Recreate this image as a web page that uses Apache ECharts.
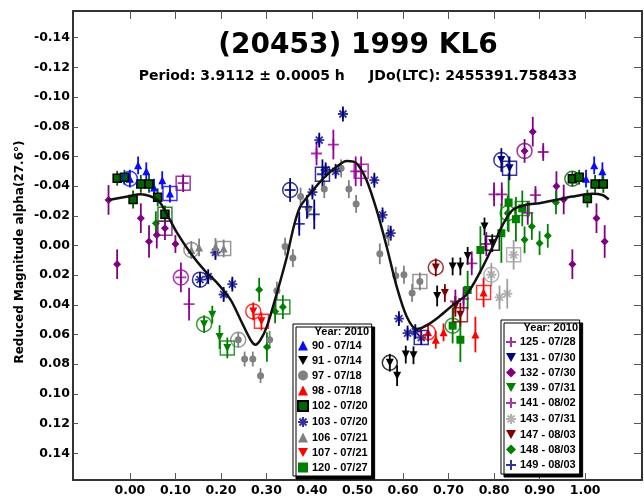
<!DOCTYPE html>
<html><head><meta charset="utf-8">
<script src="https://cdn.jsdelivr.net/npm/echarts@6/dist/echarts.min.js"></script>
<style>html,body{margin:0;padding:0;background:#fff}#c{width:644px;height:499px}</style>
</head><body><div id="c"></div>
<script>
// ---- tick labels ----
const xTicks = [0.00, 0.10, 0.20, 0.30, 0.40, 0.50, 0.60, 0.70, 0.80, 0.90, 1.00];
const yTicks = [-0.14, -0.12, -0.10, -0.08, -0.06, -0.04, -0.02, 0.00, 0.02, 0.04, 0.06, 0.08, 0.10, 0.12, 0.14];

// ---- sessions: [phase, reduced mag, error, marker('c' circle / 's' square)] ----
const s90  = [[0.000,-0.045,0.006,'c'],[0.018,-0.054,0.006],[0.036,-0.050,0.006],[0.053,-0.039,0.006],[0.071,-0.044,0.006],[0.088,-0.035,0.006,'s'],[1.002,-0.045,0.006],[1.020,-0.054,0.006],[1.038,-0.050,0.006]];
const s91  = [[0.571,0.079,0.006,'c'],[0.587,0.0877,0.007],[0.606,0.0735,0.006],[0.623,0.074,0.006],[0.675,0.034,0.007],[0.709,0.0141,0.006],[0.726,0.0141,0.006],[0.742,0.007,0.006],[0.779,-0.0128,0.006],[0.796,-0.0016,0.006,'s']];
const s97  = [[0.238,0.0635,0.005,'c'],[0.252,0.0765,0.005],[0.270,0.0765,0.005],[0.287,0.0877,0.005],[0.307,0.0635,0.006],[0.323,0.0305,0.006],[0.341,0.0007,0.006],[0.358,0.0085,0.006],[0.375,-0.033,0.006],[0.392,-0.025,0.006],[0.427,-0.038,0.006],[0.464,-0.052,0.006],[0.481,-0.038,0.006],[0.497,-0.028,0.006],[0.549,0.0056,0.007],[0.568,-0.0067,0.007],[0.584,0.0204,0.006],[0.602,0.0197,0.006],[0.620,0.032,0.006],[0.637,0.0242,0.006,'s']];
const s98  = [[0.655,0.0585,0.006,'c'],[0.672,0.0635,0.006],[0.689,0.0585,0.006],[0.759,0.060,0.012],[0.777,0.0316,0.010,'s']];
const s102 = [[-0.028,-0.0453,0.005],[-0.012,-0.046,0.005],[0.007,-0.031,0.006],[0.024,-0.0415,0.006],[0.042,-0.0415,0.006],[0.061,-0.0325,0.006],[0.077,-0.021,0.006,'s'],[0.972,-0.045,0.005,'c'],[0.987,-0.046,0.005],[1.005,-0.0316,0.006],[1.022,-0.0415,0.006],[1.040,-0.0415,0.006]];
const s103 = [[0.154,0.023,0.005,'c'],[0.172,0.021,0.005],[0.188,0.0047,0.005],[0.206,0.033,0.005],[0.225,0.026,0.005],[0.401,-0.036,0.005],[0.416,-0.071,0.005],[0.430,-0.051,0.005],[0.452,-0.050,0.005],[0.468,-0.0886,0.005],[0.537,-0.044,0.005],[0.555,-0.0206,0.005],[0.573,-0.0083,0.005],[0.591,0.0493,0.005],[0.610,0.059,0.005],[0.627,0.058,0.005],[0.640,0.062,0.005,'s']];
const s106 = [[0.135,0.003,0.006,'c'],[0.152,0.0013,0.006],[0.188,0.001,0.006],[0.206,0.002,0.006,'s']];
const s107 = [[0.271,0.0444,0.006,'c'],[0.289,0.0511,0.006,'s']];
const s120 = [[0.709,0.054,0.012,'c'],[0.726,0.0635,0.015],[0.742,0.030,0.013],[0.770,0.003,0.016],[0.816,-0.0083,0.020],[0.832,-0.029,0.020],[0.848,-0.0177,0.015],[0.862,-0.025,0.012,'s']];
const s125 = [[0.715,0.0377,0.008],[0.733,0.036,0.008],[0.751,0.012,0.008],[0.783,-0.001,0.008],[0.800,-0.0345,0.008],[0.817,-0.0345,0.008],[0.874,-0.022,0.008],[0.891,-0.034,0.006],[0.908,-0.063,0.006],[0.117,-0.042,0.006,'s']];
const s131 = [[0.816,-0.0576,0.008,'c'],[0.834,-0.052,0.008,'s']];
const s132 = [[0.867,-0.0637,0.008,'c'],[0.885,-0.0767,0.010],[0.937,-0.040,0.010],[0.953,-0.031,0.010],[0.972,0.0126,0.010],[1.025,-0.0184,0.010],[1.043,-0.0027,0.011],[-0.047,-0.0307,0.010],[-0.028,0.0126,0.010],[0.024,-0.0184,0.010],[0.042,-0.0027,0.011],[0.059,-0.007,0.009],[0.077,-0.0117,0.008,'s'],[0.100,-0.001,0.006]];
const s139 = [[0.163,0.053,0.006,'c'],[0.181,0.0466,0.006],[0.197,0.0617,0.008],[0.214,0.069,0.007,'s']];
const s141 = [[0.112,0.0215,0.010,'c'],[0.130,0.0395,0.011],[0.410,-0.062,0.008],[0.447,-0.068,0.010],[0.496,-0.050,0.010],[0.508,-0.050,0.010,'s']];
const s143 = [[0.794,0.0197,0.008,'c'],[0.812,0.035,0.008],[0.829,0.0325,0.010],[0.843,0.0063,0.010,'s']];
const s147 = [[0.672,0.0148,0.006,'c'],[0.692,0.032,0.006],[0.715,0.041,0.007],[0.726,0.0466,0.008,'s']];
const s148 = [[0.284,0.0298,0.008],[0.301,0.0684,0.010],[0.319,0.0444,0.008],[0.336,0.0415,0.008,'s'],[0.057,-0.015,0.008],[0.830,-0.0218,0.012,'c'],[0.867,-0.0038,0.009],[0.883,-0.0128,0.009],[0.900,-0.0016,0.008],[0.918,-0.0065,0.008],[0.936,-0.029,0.008]];
const s149 = [[0.352,-0.0374,0.008,'c'],[0.372,-0.0146,0.008],[0.389,-0.026,0.008],[0.405,-0.021,0.010],[0.423,-0.048,0.010,'s']];

// ---- Fourier fit curve ----
const fitPhase = [-0.047,-0.005,0.024,0.061,0.082,0.104,0.133,0.163,0.192,0.221,0.243,0.265,0.276,0.287,0.301,0.323,0.345,0.360,0.374,0.396,0.425,0.454,0.476,0.491,0.502,0.520,0.542,0.564,0.586,0.608,0.630,0.651,0.680,0.710,0.739,0.768,0.797,0.819,0.841,0.870,0.900,0.936,0.972,1.016,1.038,1.052];
const fitMag   = [-0.0307,-0.033,-0.0345,-0.0307,-0.0206,-0.0083,0.005,0.0164,0.0253,0.0365,0.050,0.0635,0.0668,0.0635,0.0545,0.032,0.0074,-0.0128,-0.026,-0.035,-0.0453,-0.053,-0.057,-0.0565,-0.054,-0.044,-0.024,0.0007,0.0276,0.0478,0.0563,0.054,0.0478,0.040,0.0332,0.0186,0.0007,-0.0139,-0.024,-0.0274,-0.0285,-0.0307,-0.033,-0.0348,-0.034,-0.031];

// ---- styles ----
const STAR = 'path://M5,0V10M0,5H10M1.5,1.5L8.5,8.5M8.5,1.5L1.5,8.5';
const PLUS = 'path://M5,0V10M0,5H10';
const DOWN = 'path://M0,0L10,0L5,9Z';
const FONT = '"DejaVu Sans", sans-serif';
const LFONT = '"Liberation Sans", Arial, sans-serif';
const group1 = [
  {name:'90 - 07/14',  data:s90,  color:'#0a0aff', symbol:'triangle', size:8},
  {name:'91 - 07/14',  data:s91,  color:'#000000', symbol:DOWN, size:8},
  {name:'97 - 07/18',  data:s97,  color:'#808080', symbol:'circle', size:7},
  {name:'98 - 07/18',  data:s98,  color:'#ff0000', symbol:'triangle', size:8},
  {name:'102 - 07/20', data:s102, color:'#006400', symbol:'rect', size:8, border:'#000000'},
  {name:'103 - 07/20', data:s103, color:'#000080', symbol:STAR, size:10, line:true},
  {name:'106 - 07/21', data:s106, color:'#808080', symbol:'triangle', size:8},
  {name:'107 - 07/21', data:s107, color:'#ff0000', symbol:DOWN, size:8},
  {name:'120 - 07/27', data:s120, color:'#008000', symbol:'rect', size:8}
];
const group2 = [
  {name:'125 - 07/28', data:s125, color:'#8a008a', symbol:PLUS, size:11, line:true},
  {name:'131 - 07/30', data:s131, color:'#000080', symbol:DOWN, size:8},
  {name:'132 - 07/30', data:s132, color:'#800080', symbol:'diamond', size:8},
  {name:'139 - 07/31', data:s139, color:'#008000', symbol:DOWN, size:8},
  {name:'141 - 08/02', data:s141, color:'#990099', symbol:PLUS, size:11, line:true},
  {name:'143 - 07/31', data:s143, color:'#a0a0a0', symbol:STAR, size:10, line:true},
  {name:'147 - 08/03', data:s147, color:'#800000', symbol:DOWN, size:8},
  {name:'148 - 08/03', data:s148, color:'#008000', symbol:'diamond', size:8},
  {name:'149 - 08/03', data:s149, color:'#000080', symbol:PLUS, size:11, line:true}
];
const all = group1.concat(group2);

function errItem(params, api){
  const x = api.value(0), y = api.value(1), e = api.value(2);
  const a = api.coord([x, y - e]), b = api.coord([x, y + e]);
  return {type:'line', shape:{x1:a[0], y1:a[1], x2:b[0], y2:b[1]}, style:{stroke:api.visual('color'), lineWidth:1.8}};
}

const series = [];
all.forEach((s, i) => {
  series.push({type:'custom', name:'err' + i, renderItem:errItem, data:s.data.map(p => [p[0], p[1], p[2]]),
    itemStyle:{color:s.color}, z:2, silent:true, animation:false});
});
all.forEach((s) => {
  series.push({type:'scatter', name:s.name, data:s.data.map(p => [p[0], p[1]]),
    symbol:s.symbol, symbolSize:s.size,
    itemStyle: s.line ? {color:s.color, borderColor:s.color, borderWidth:1.8}
              : {color:s.color, borderColor:s.border || s.color, borderWidth:s.border ? 1.5 : 0, opacity:1},
    z:3, silent:true});
});
const ringData = [], boxData = [];
all.forEach((s) => {
  s.data.forEach(p => {
    if (p[3] === 'c') ringData.push({value:[p[0], p[1]], itemStyle:{borderColor:s.color}});
    if (p[3] === 's') boxData.push({value:[p[0], p[1]], itemStyle:{borderColor:s.color}});
  });
});
series.push({type:'scatter', name:'rings', data:ringData, symbol:'circle', symbolSize:15,
  itemStyle:{color:'rgba(0,0,0,0)', borderWidth:1.5}, z:4, silent:true});
series.push({type:'scatter', name:'boxes', data:boxData, symbol:'rect', symbolSize:14,
  itemStyle:{color:'rgba(0,0,0,0)', borderWidth:1.5}, z:4, silent:true});
series.push({type:'line', name:'fit', data:fitPhase.map((p, i) => [p, fitMag[i]]), showSymbol:false,
  smooth:0.3, lineStyle:{color:'#111', width:2.5}, z:5, silent:true});

const axisLine = {show:true, onZero:false, lineStyle:{color:'#333', width:2}};
const fmt = v => v.toFixed(2);
const labelStyle = {fontFamily:FONT, fontWeight:'bold', fontSize:12.5, color:'#000'};

function legendCfg(names, left, top){
  return {data:names, left:left, top:top, orient:'vertical', itemWidth:10, itemHeight:10, itemGap:4,
    padding:[16,4,3,4], backgroundColor:'#fff', borderColor:'#000', borderWidth:1,
    shadowColor:'#000', shadowOffsetX:3, shadowOffsetY:3, shadowBlur:0, selectedMode:false,
    textStyle:{fontFamily:LFONT, fontWeight:'bold', fontSize:11, color:'#000', padding:[0,0,0,-1]}};
}

const option = {
  animation:false,
  backgroundColor:'#fff',
  grid:{left:73, right:2, top:11, bottom:19},
  xAxis:[
    {type:'value', min:-0.125, max:1.125, position:'bottom', axisLine:axisLine,
     axisTick:{show:true, inside:true, length:7, customValues:xTicks, lineStyle:{color:'#555', width:1}},
     axisLabel:Object.assign({customValues:xTicks, formatter:fmt, margin:4}, labelStyle),
     splitLine:{show:false}},
    {type:'value', min:-0.125, max:1.125, position:'top', axisLine:axisLine,
     axisTick:{show:true, inside:true, length:8, customValues:xTicks, lineStyle:{color:'#555', width:1}},
     axisLabel:{show:false}, splitLine:{show:false}}
  ],
  yAxis:[
    {type:'value', inverse:true, min:-0.158, max:0.158, position:'left', axisLine:axisLine,
     axisTick:{show:true, inside:true, length:5, customValues:yTicks, lineStyle:{color:'#555', width:1}},
     axisLabel:Object.assign({customValues:yTicks, formatter:fmt, margin:3}, labelStyle),
     splitLine:{show:false}},
    {type:'value', inverse:true, min:-0.158, max:0.158, position:'right', axisLine:axisLine,
     axisTick:{show:true, inside:true, length:8, customValues:yTicks, lineStyle:{color:'#555', width:1}},
     axisLabel:{show:false}, splitLine:{show:false}}
  ],
  legend:[legendCfg(group1.map(s => s.name), 293, 324), legendCfg(group2.map(s => s.name), 501, 320)],
  graphic:[
    {type:'text', x:358, y:46, z:10, style:{text:'(20453) 1999 KL6', font:'bold 28px ' + FONT, fill:'#000', textAlign:'center', textVerticalAlign:'middle'}},
    {type:'text', x:358, y:76, z:10, style:{text:'Period: 3.9112 \u00b1 0.0005 h     JDo(LTC): 2455391.758433', font:'bold 14px ' + FONT, fill:'#000', textAlign:'center', textVerticalAlign:'middle'}},
    {type:'text', x:20, y:252, rotation:Math.PI/2, z:10, style:{text:'Reduced Magnitude alpha(27.6\u00b0)', font:'bold 12px ' + FONT, fill:'#000', textAlign:'center', textVerticalAlign:'middle'}},
    {type:'text', x:369, y:332, z:20, style:{text:'Year: 2010', font:'bold 11px ' + LFONT, fill:'#000', textAlign:'right', textVerticalAlign:'middle'}},
    {type:'text', x:578, y:328, z:20, style:{text:'Year: 2010', font:'bold 11px ' + LFONT, fill:'#000', textAlign:'right', textVerticalAlign:'middle'}}
  ],
  series:series
};
const chart = echarts.init(document.getElementById('c'), null, {renderer:'canvas'});
chart.setOption(option);
</script>
</body></html>
